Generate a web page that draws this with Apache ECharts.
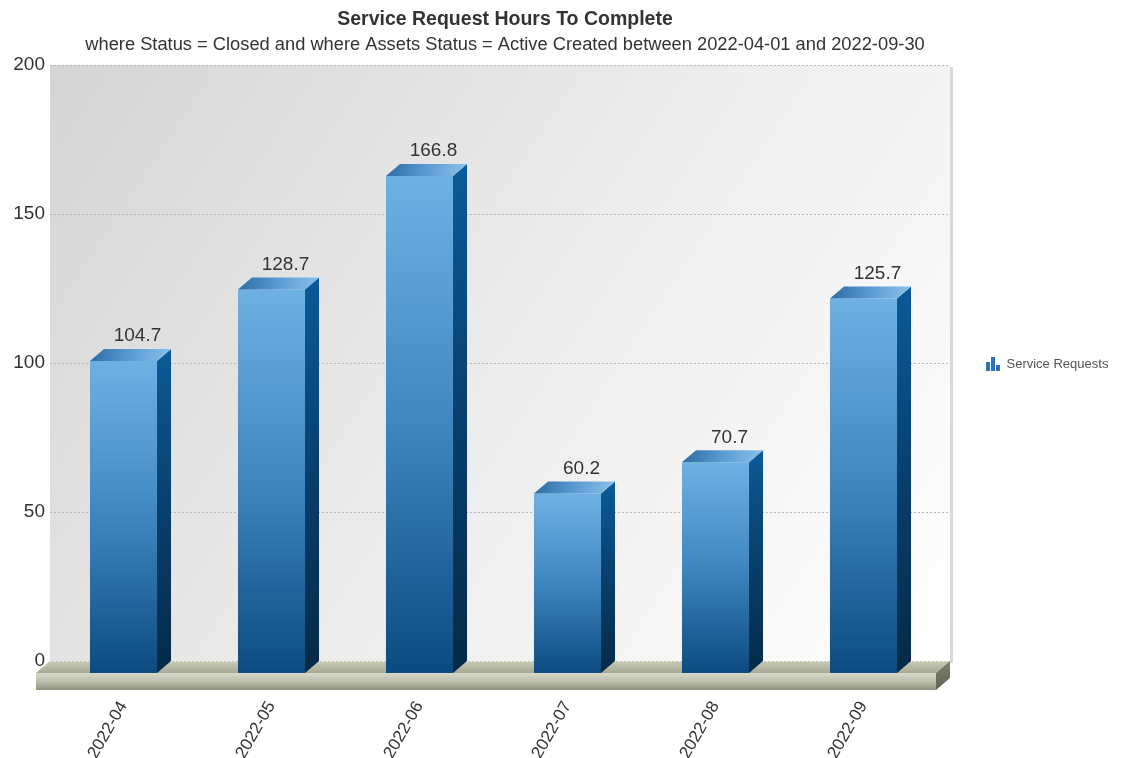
<!DOCTYPE html>
<html>
<head>
<meta charset="utf-8">
<script src="https://cdn.jsdelivr.net/npm/echarts@6/dist/echarts.min.js"></script>
<style>html,body{margin:0;padding:0;background:#fff}#c{width:1124px;height:758px}</style>
</head>
<body>
<div id="c"></div>
<script>
const categories = ['2022-04', '2022-05', '2022-06', '2022-07', '2022-08', '2022-09'];
const values = [104.7, 128.7, 166.8, 60.2, 70.7, 125.7];
const seriesName = 'Service Requests';
const titleText = 'Service Request Hours To Complete';
const subtitleText = 'where Status = Closed and where Assets Status = Active Created between 2022-04-01 and 2022-09-30';
const yMin = 0, yMax = 200, yStep = 50;

const FONT = '"Liberation Sans", Arial, sans-serif';
const DX = 14, DY = 12, SLAB = 17;

const chart = echarts.init(document.getElementById('c'), null, {renderer: 'canvas'});

function lg(x0, y0, x1, y1, stops) {
  return new echarts.graphic.LinearGradient(x0, y0, x1, y1, stops.map((c, i) => ({offset: i / (stops.length - 1), color: c})));
}

function renderFloor(params, api) {
  const cs = params.coordSys;
  const x0 = cs.x, x1 = cs.x + cs.width, yb = cs.y + cs.height, yt = cs.y;
  return {
    type: 'group',
    children: [
      {type: 'rect', shape: {x: x1, y: yt + 2, width: 3, height: cs.height}, style: {fill: '#d9d9d9'}},
      {type: 'polygon', shape: {points: [[x0, yb], [x1, yb], [x1 - DX, yb + DY], [x0 - DX, yb + DY]]},
        style: {fill: lg(0, 0, 0, 1, ['#c8cbb8', '#a6aa95'])}},
      {type: 'line', shape: {x1: x0, y1: yb + 0.5, x2: x1, y2: yb + 0.5},
        style: {stroke: '#e8e8e0', lineWidth: 1, lineDash: [2, 2]}},
      {type: 'rect', shape: {x: x0 - DX, y: yb + DY, width: x1 - x0, height: SLAB},
        style: {fill: lg(0, 0, 0, 1, ['#d6d9c8', '#bcbfac', '#8c907c'])}},
      {type: 'polygon', shape: {points: [[x1 - DX, yb + DY], [x1, yb], [x1, yb + SLAB], [x1 - DX, yb + DY + SLAB]]},
        style: {fill: lg(0, 0, 0, 1, ['#7d816f', '#5f6353'])}}
    ]
  };
}

function renderBar(params, api) {
  const i = api.value(0), v = api.value(1);
  const top = api.coord([i, v]);
  const base = api.coord([i, 0]);
  const bw = api.size([1, 0])[0] * 0.453;
  const bx0 = top[0] - bw / 2, bx1 = top[0] + bw / 2;
  const fx0 = bx0 - DX, fx1 = bx1 - DX;
  const fTop = top[1] + DY, fBot = base[1] + DY;
  return {
    type: 'group',
    children: [
      {type: 'rect', shape: {x: fx0, y: fTop, width: bw, height: fBot - fTop},
        style: {fill: lg(0, 0, 0, 1, ['#6eb1e3', '#3f86c0', '#0b4b80'])}},
      {type: 'polygon', shape: {points: [[fx1, fTop], [bx1, top[1]], [bx1, base[1]], [fx1, fBot]]},
        style: {fill: lg(0, 0, 0, 1, ['#0b5a98', '#083f6c', '#052a48'])}},
      {type: 'polygon', shape: {points: [[fx0, fTop], [bx0, top[1]], [bx1, top[1]], [fx1, fTop]]},
        style: {fill: lg(0, 0, 1, 1, ['#2c6aa2', '#5b9bd2', '#8cc2ea'])}},
      {type: 'text', x: top[0], y: top[1] - 13,
        style: {text: String(v), fill: '#333', font: '19px ' + FONT, align: 'center', verticalAlign: 'middle'}}
    ]
  };
}

const option = {
  animation: false,
  backgroundColor: '#fff',
  textStyle: {fontFamily: FONT},
  title: {
    text: titleText,
    subtext: subtitleText,
    left: 500,
    textAlign: 'center',
    top: 5,
    itemGap: 6,
    textStyle: {fontSize: 19.5, fontWeight: 'bold', color: '#333', fontFamily: FONT},
    subtextStyle: {fontSize: 18.3, color: '#333', fontFamily: FONT}
  },
  legend: {
    data: [{name: seriesName, icon: 'path://M0,5H4V14H0ZM5,0H9V14H5ZM10,8H14V14H10Z'}],
    left: 981,
    top: 352,
    itemWidth: 15,
    itemHeight: 14,
    itemGap: 6,
    textStyle: {fontSize: 13, color: '#555', fontFamily: FONT, padding: [0, 0, 0, 1]}
  },
  grid: [
    {left: 50, right: 174, top: 65, bottom: 97, show: true, borderWidth: 0, outerBoundsMode: 'none',
      backgroundColor: lg(0, 0, 1, 1, ['#d5d5d5', '#ececec', '#ffffff'])},
    {left: 63.5, right: 172.5, top: 65, bottom: 97, outerBoundsMode: 'none'},
    {left: 49.5, right: 186.5, top: 77, bottom: 85, outerBoundsMode: 'none'}
  ],
  xAxis: [
    {gridIndex: 0, type: 'value', min: 0, max: 1, show: false},
    {gridIndex: 1, type: 'category', data: categories, show: false},
    {gridIndex: 2, type: 'category', data: categories,
      axisLine: {show: false}, axisTick: {show: false},
      axisLabel: {rotate: 60, margin: 30, fontSize: 17, color: '#333', fontFamily: FONT}}
  ],
  yAxis: [
    {gridIndex: 0, type: 'value', min: yMin, max: yMax, interval: yStep,
      axisLine: {show: false}, axisTick: {show: false},
      axisLabel: {margin: 5, fontSize: 19, color: '#333', fontFamily: FONT},
      splitLine: {lineStyle: {color: '#b5b5b5', type: [2, 2], width: 1}}},
    {gridIndex: 1, type: 'value', min: yMin, max: yMax, interval: yStep, show: false, splitLine: {show: false}},
    {gridIndex: 2, type: 'value', min: yMin, max: yMax, interval: yStep, show: false, splitLine: {show: false}}
  ],
  series: [
    {type: 'custom', name: 'floor', xAxisIndex: 0, yAxisIndex: 0, z: 1, silent: true,
      renderItem: renderFloor, data: [[0, 0]]},
    {type: 'custom', name: seriesName, xAxisIndex: 1, yAxisIndex: 1, z: 2,
      itemStyle: {color: '#2b72b8'},
      encode: {x: 0, y: 1},
      renderItem: renderBar,
      data: values.map((v, i) => [i, v])}
  ]
};
chart.setOption(option);
</script>
</body>
</html>
